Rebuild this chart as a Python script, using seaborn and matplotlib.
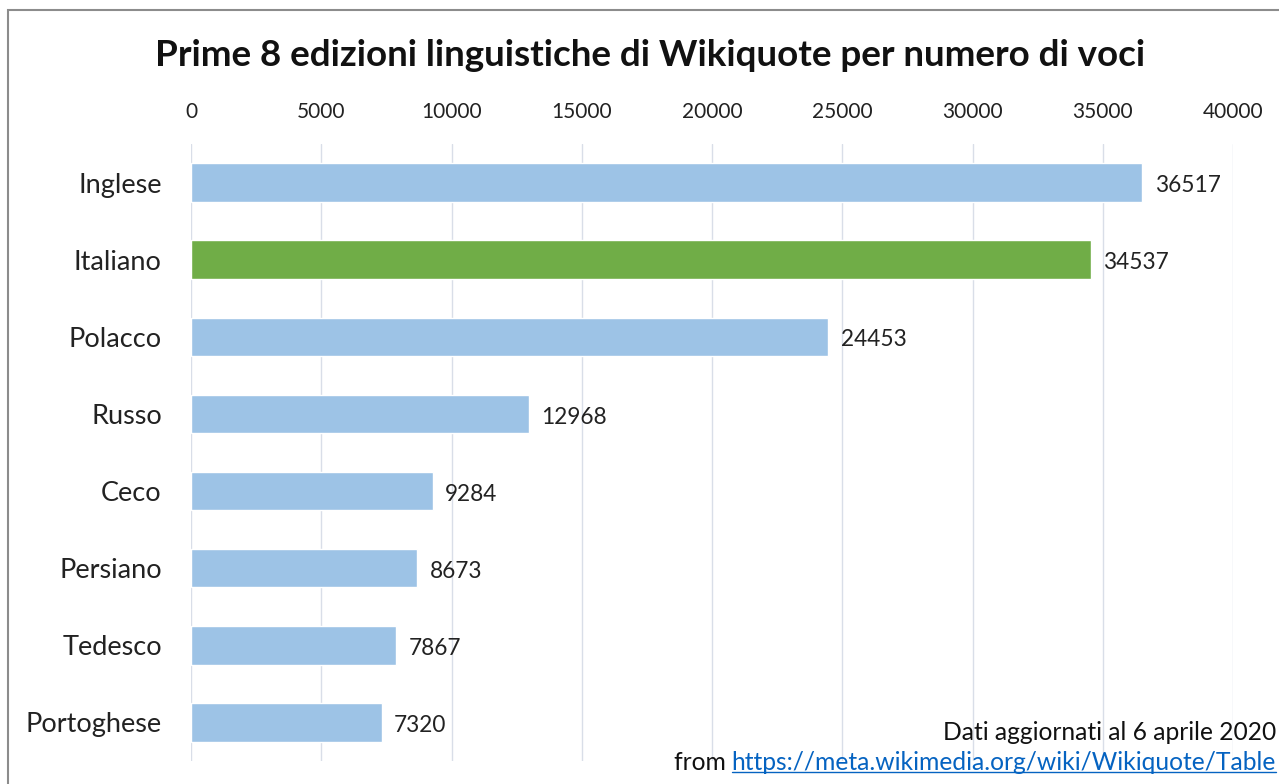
import matplotlib
matplotlib.use("Agg")
import matplotlib.pyplot as plt
import seaborn as sns
import pandas as pd
from matplotlib.patches import Rectangle

languages = ["Inglese", "Italiano", "Polacco", "Russo", "Ceco", "Persiano", "Tedesco", "Portoghese"]
voci = [36517, 34537, 24453, 12968, 9284, 8673, 7867, 7320]
bar_colors = ["#9DC3E6", "#70AD47", "#9DC3E6", "#9DC3E6", "#9DC3E6", "#9DC3E6", "#9DC3E6", "#9DC3E6"]
x_ticks = [0, 5000, 10000, 15000, 20000, 25000, 30000, 35000, 40000]

sns.set_theme(style="white")
plt.rcParams['font.family'] = ['Lato', 'DejaVu Sans']

df = pd.DataFrame({"lingua": languages, "voci": voci})

fig = plt.figure(figsize=(12.79, 7.84), dpi=100)
ax = fig.add_axes([191/1279, 1 - 761/784, (1233-191)/1279, (761-144)/784])

sns.barplot(data=df, x="voci", y="lingua", hue="lingua", palette=bar_colors,
            legend=False, width=0.5, ax=ax, orient="h", saturation=1)

ax.set_xlim(0, 40000)
ax.set_xticks(x_ticks)
ax.set_xticklabels([str(t) for t in x_ticks], fontsize=15, color="#222222")
ax.xaxis.tick_top()
ax.tick_params(axis="x", length=0, pad=16)
ax.tick_params(axis="y", length=0, pad=21, labelsize=19.5, labelcolor="#222222")
ax.set_xlabel("")
ax.set_ylabel("")
ax.grid(axis="x", color="#D9DEE8", linewidth=1)
ax.set_axisbelow(True)
for s in ax.spines.values():
    s.set_visible(False)

for i, v in enumerate(voci):
    ax.text(v + 480, i + 0.04, str(v), va="center", ha="left", fontsize=16.3, color="#222222")

fig.text(650/1279, 1 - 55/784, "Prime 8 edizioni linguistiche di Wikiquote per numero di voci",
         ha="center", va="center", fontsize=26.5, fontweight="bold", color="#111111")

fig.text(1276/1279, 1 - 732/784, "Dati aggiornati al 6 aprile 2020", ha="right", va="center",
         fontsize=17.7, color="#111111")
t1 = fig.text(1276/1279, 1 - 762/784, "https://meta.wikimedia.org/wiki/Wikiquote/Table", ha="right",
              va="center", fontsize=17.7, color="#0563C1")
fig.canvas.draw()
bb = t1.get_window_extent()
fig.text(bb.x0/1279, 1 - 762/784, "from ", ha="right", va="center", fontsize=17.7, color="#111111")
fig.add_artist(plt.Line2D([bb.x0/1279, bb.x1/1279], [(bb.y0+2)/784, (bb.y0+2)/784],
                          transform=fig.transFigure, color="#0563C1", linewidth=1))

fig.add_artist(Rectangle((8/1279, -0.01), 1.0, 1 - 10/784 + 0.01, transform=fig.transFigure,
                         fill=False, edgecolor="#8C8C8C", linewidth=1.5))

fig.savefig("out.png", dpi=100)
